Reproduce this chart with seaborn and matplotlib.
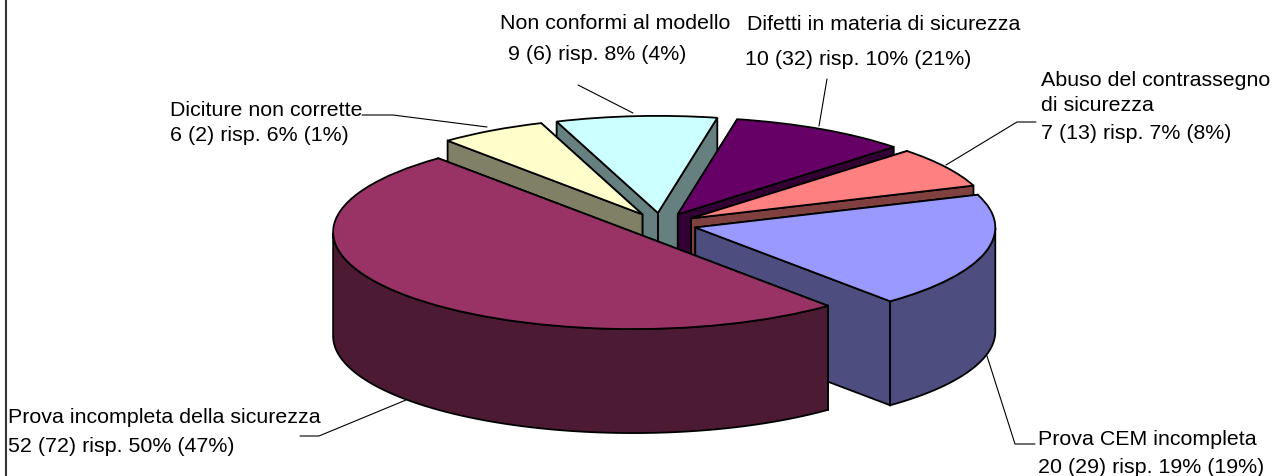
import numpy as np
import matplotlib
matplotlib.use("Agg")
import matplotlib.pyplot as plt
import seaborn as sns

# ---- data (counter-clockwise, starting at the CEM slice) ----
categories = ["Prova CEM incompleta", "Abuso del contrassegno\ndi sicurezza",
              "Difetti in materia di sicurezza", "Non conformi al modello",
              "Diciture non corrette", "Prova incompleta della sicurezza"]
counts = [20, 7, 10, 9, 6, 52]
prev_counts = [29, 13, 32, 6, 2, 72]
shares = [19, 7, 10, 8, 6, 50]
prev_shares = [19, 8, 21, 4, 1, 47]
top_colors = ["#9999FF", "#FF8080", "#660066", "#CCFFFF", "#FFFFCC", "#993366"]

# ---- style / geometry ----
W, H = 1273, 477
CX, CY, RX, RY, DEPTH = 660.5, 225.5, 300.0, 97.0, 104.0
START = -49.5
EXPLODE = 0.12
DRAW_ORDER = [3, 2, 4, 1, 0, 5]   # back to front
FS = 15.4
EDGE = 1.3
TEXT_DY = 1.5

sns.set_theme(style="white")
plt.rcParams["font.family"] = ["Liberation Sans", "DejaVu Sans"]
palette = sns.color_palette(top_colors)
side_colors = [tuple(c * 0.5 for c in col) for col in palette]

fig = plt.figure(figsize=(W / 100, H / 100), dpi=100, facecolor="white")
ax = fig.add_axes([0, 0, 1, 1])

def px(x, y):
    return (x - CX) / RX, (CY - y) / RY

wedges, _ = ax.pie(counts, colors=palette, startangle=START, counterclock=True,
                   explode=[EXPLODE] * len(counts), radius=1.0,
                   wedgeprops=dict(edgecolor="black", linewidth=EDGE))
ax.set_aspect("auto")
x0, y1 = px(0, 0)
x1, y0 = px(W, H)
ax.set_xlim(x0, x1)
ax.set_ylim(y0, y1)
ax.set_axis_off()

d = DEPTH / RY
fractions = np.array(counts, dtype=float) / np.sum(counts)
edges = START + 360.0 * np.concatenate([[0], np.cumsum(fractions)])

for rank, i in enumerate(DRAW_ORDER):
    a0, a1 = edges[i], edges[i + 1]
    mid = np.deg2rad((a0 + a1) / 2)
    ox, oy = EXPLODE * np.cos(mid), EXPLODE * np.sin(mid)
    z = 2 + rank
    # the cut face whose outer end sits lower on screen goes in front
    for a in sorted((a0, a1), key=lambda v: -np.sin(np.deg2rad(v))):
        t = np.deg2rad(a)
        tx, ty = ox + np.cos(t), oy + np.sin(t)
        ax.fill([ox, tx, tx, ox], [oy, ty, ty - d, oy - d],
                facecolor=side_colors[i], edgecolor="black", linewidth=EDGE,
                zorder=z)
    t = np.deg2rad(np.linspace(a0, a1, 300))
    t = t[np.sin(t) <= 0]
    if t.size:
        xs = ox + np.cos(t)
        ys = oy + np.sin(t)
        ax.fill(np.r_[xs, xs[::-1]], np.r_[ys, ys[::-1] - d],
                facecolor=side_colors[i], edgecolor="black", linewidth=EDGE,
                zorder=z + 0.1)
    wedges[i].set_zorder(z + 0.2)

# ---- labels: one entry per slice ----
second = [f"{n} ({p}) risp. {s}% ({q}%)"
          for n, p, s, q in zip(counts, prev_counts, shares, prev_shares)]
label_lines = [
    [(1038, 438, categories[0]), (1038, 466, second[0])],
    [(1041, 79, categories[1].split("\n")[0]), (1041, 104, categories[1].split("\n")[1]),
     (1041, 132, second[1])],
    [(747, 23, categories[2]), (745, 58, second[2])],
    [(500, 22, categories[3]), (508, 53, second[3])],
    [(170, 109, categories[4]), (170, 134, second[4])],
    [(8, 416, categories[5]), (8, 445, second[5])],
]
for lines in label_lines:
    for x, y, s in lines:
        xx, yy = px(x, y + TEXT_DY)
        ax.text(xx, yy, s, fontsize=FS, color="black", ha="left", va="center", zorder=20)

leaders = [
    [(987, 357), (1015, 445), (1035, 445)],
    [(946, 166), (1017, 123), (1036, 123)],
    [(819, 127), (827, 80)],
    [(633, 114), (578, 86)],
    [(487, 128), (393, 116), (362, 116)],
    [(406, 401), (319, 437), (300, 437)],
]
for pts in leaders:
    xy = np.array([px(*p) for p in pts])
    ax.plot(xy[:, 0], xy[:, 1], color="black", lw=0.8, zorder=19)

bx = px(5.5, 0)[0]
ax.plot([bx, bx], [y0, y1], color="#333333", lw=1.5, zorder=19, clip_on=True)

fig.savefig("out.png", dpi=100, facecolor="white")
